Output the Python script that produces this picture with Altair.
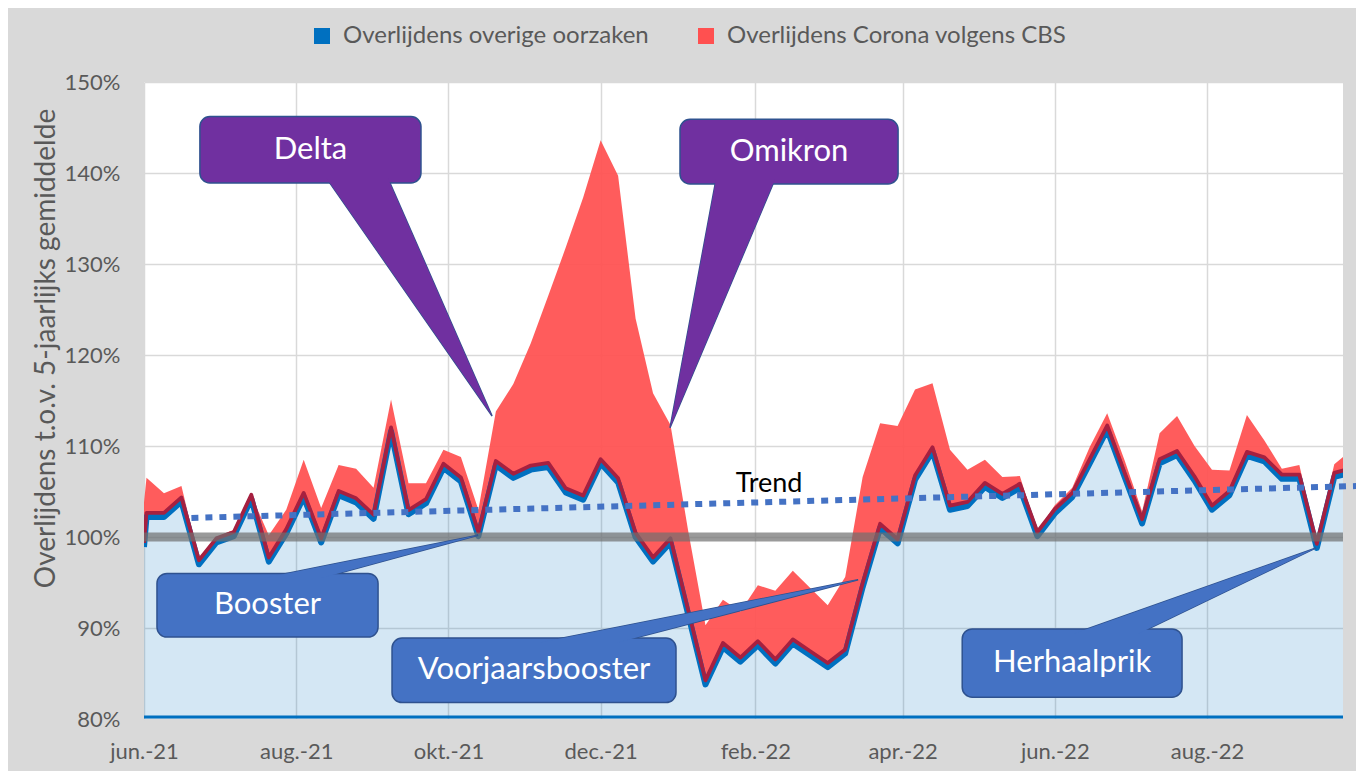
import altair as alt
import pandas as pd

# ---------------- data ----------------
dates = [
    "2021-06-01", "2021-06-02", "2021-06-09", "2021-06-16", "2021-06-23", "2021-06-30",
    "2021-07-07", "2021-07-14", "2021-07-21", "2021-07-28", "2021-08-04", "2021-08-11",
    "2021-08-18", "2021-08-25", "2021-09-01", "2021-09-08", "2021-09-15", "2021-09-22",
    "2021-09-29", "2021-10-06", "2021-10-13", "2021-10-20", "2021-10-27", "2021-11-03",
    "2021-11-10", "2021-11-17", "2021-11-24", "2021-12-01", "2021-12-08", "2021-12-15",
    "2021-12-22", "2021-12-29", "2022-01-05", "2022-01-12", "2022-01-19", "2022-01-26",
    "2022-02-02", "2022-02-09", "2022-02-16", "2022-02-23", "2022-03-02", "2022-03-09",
    "2022-03-16", "2022-03-23", "2022-03-30", "2022-04-06", "2022-04-13", "2022-04-20",
    "2022-04-27", "2022-05-04", "2022-05-11", "2022-05-18", "2022-05-25", "2022-06-01",
    "2022-06-08", "2022-06-15", "2022-06-22", "2022-06-29", "2022-07-06", "2022-07-13",
    "2022-07-20", "2022-07-27", "2022-08-03", "2022-08-10", "2022-08-17", "2022-08-24",
    "2022-08-31", "2022-09-07", "2022-09-14", "2022-09-21", "2022-09-28",
]
# deaths from other causes, % of 5-year average (blue series)
overige = [
    98.9, 102.2, 102.2, 103.9, 97.0, 99.4, 100.1, 104.2, 97.3, 100.4, 104.4, 99.4,
    104.6, 103.8, 102.0, 111.6, 102.5, 103.7, 107.6, 106.1, 100.1, 107.9, 106.5, 107.4,
    107.7, 104.9, 104.1, 108.1, 106.0, 100.0, 97.3, 99.4, 91.6, 83.8, 87.9, 86.3,
    88.1, 86.1, 88.3, 87.0, 85.7, 87.2, 94.5, 101.0, 99.3, 106.3, 109.4, 103.0,
    103.4, 105.5, 104.3, 105.4, 100.1, 102.6, 104.4, 108.1, 111.8, 106.6, 101.5, 108.1,
    109.0, 106.2, 103.0, 104.6, 108.9, 108.3, 106.4, 106.4, 98.8, 106.6, 107.1,
]
# corona deaths (CBS), stacked on top (red series), % points
corona = [
    4.9, 4.3, 2.6, 1.7, 0.7, 0.6, 0.7, 0.4, 2.9, 2.6, 4.1, 3.8,
    3.3, 3.7, 3.4, 3.5, 3.4, 2.2, 2.0, 2.7, 2.9, 5.9, 10.3, 13.9,
    18.8, 26.9, 33.2, 35.5, 33.7, 24.0, 18.5, 12.9, 9.2, 6.5, 5.2, 5.5,
    6.6, 8.0, 8.0, 7.4, 6.8, 8.4, 12.1, 11.5, 12.9, 9.9, 7.5, 6.6,
    4.0, 3.0, 2.3, 1.3, 0.5, 0.9, 1.0, 1.8, 1.8, 1.8, 1.3, 3.3,
    4.3, 3.8, 4.4, 2.7, 4.5, 2.3, 1.1, 1.5, 0.8, 1.4, 2.5,
]

legend_labels = ["Overlijdens overige oorzaken", "Overlijdens Corona volgens CBS"]
legend_colors = ["#0070C0", "#FF5050"]

x_tick_dates = ["2021-06-01", "2021-08-01", "2021-10-01", "2021-12-01",
                "2022-02-01", "2022-04-01", "2022-06-01", "2022-08-01"]
dutch_months = ["jan.", "feb.", "mrt.", "apr.", "mei", "jun.", "jul.", "aug.",
                "sep.", "okt.", "nov.", "dec."]
y_ticks = [80, 90, 100, 110, 120, 130, 140, 150]
x_domain = ["2021-06-01", "2022-09-24T12:00:00"]
y_domain = [80, 150]

trend_dates = ["2021-06-20", "2022-09-30"]
trend_values = [102.1, 105.6]
trend_label = ["Trend"]
trend_label_date = ["2022-02-06T12:00:00"]
trend_label_value = [105.8]

reference_level = [100]
bottom_level = [80]

# call-outs: x in days after 1 June 2021, y in %
callout_text = ["Delta", "Omikron", "Booster", "Voorjaarsbooster", "Herhaalprik"]
callout_fill = ["#7030A0", "#7030A0", "#4472C4", "#4472C4", "#4472C4"]
box_day_from = [22.4, 214.8, 5.2, 99.4, 327.9]
box_day_to = [111.0, 302.2, 93.8, 213.2, 416.0]
box_val_low = [138.9, 138.8, 89.0, 81.8, 82.4]
box_val_high = [146.2, 145.9, 96.0, 88.9, 89.9]
wedge_base_day_a = [74.5, 228.9, 57.3, 167.9, 378.0]
wedge_base_day_b = [98.6, 252.1, 77.8, 196.8, 402.4]
wedge_base_val = [138.9, 138.8, 96.0, 88.9, 89.9]
wedge_tip_day = [139.5, 210.8, 133.9, 286.2, 469.7]
wedge_tip_val = [113.3, 112.0, 100.2, 95.3, 98.8]

# ---------------- helpers ----------------
DAY_MS = 86400000


def to_ms(s):
    return int(pd.Timestamp(s, tz="UTC").value // 10**6)


ORIGIN = to_ms("2021-06-01")


def day_ms(d):
    return ORIGIN + d * DAY_MS


df = pd.DataFrame({"datum": dates, "overige": overige, "corona": corona})

# wedges as triangles (area between two edges), base pushed a little into the box
wedge_rows = []
for i in range(len(callout_text)):
    bv, tv, td = wedge_base_val[i], wedge_tip_val[i], wedge_tip_day[i]
    sign = 1 if bv > tv else -1
    target = bv + sign * 0.5
    f = (target - tv) / (bv - tv)
    pts = [(td, tv)]
    for bd in (wedge_base_day_a[i], wedge_base_day_b[i]):
        pts.append((td + (bd - td) * f, target))
    pts.sort()
    (t0, v0), (t1, v1), (t2, v2) = pts
    v_opp = v0 + (v2 - v0) * (t1 - t0) / (t2 - t0)
    for t, lo, hi in ((t0, v0, v0), (t1, v1, v_opp), (t2, v2, v2)):
        wedge_rows.append({"id": i, "t": day_ms(t), "lo": lo, "hi": hi,
                           "fill": callout_fill[i]})
wedge_df = pd.DataFrame(wedge_rows)

box_df = pd.DataFrame({
    "label": callout_text,
    "fill": callout_fill,
    "t0": [day_ms(d) for d in box_day_from],
    "t1": [day_ms(d) for d in box_day_to],
    "tm": [day_ms((a + b) / 2) for a, b in zip(box_day_from, box_day_to)],
    "v0": box_val_low,
    "v1": box_val_high,
    "vm": [(a + b) / 2 for a, b in zip(box_val_low, box_val_high)],
})

trend_df = pd.DataFrame({"datum": trend_dates, "trend": trend_values})
trend_text_df = pd.DataFrame({"datum": trend_label_date, "waarde": trend_label_value,
                              "tekst": trend_label})
legend_df = pd.DataFrame({"serie": legend_labels})

# ---------------- scales / axes ----------------
GRID = "#D9D9D9"
TXT = "#595959"
FONT = "Lato"

x_scale = alt.Scale(type="utc", domain=[to_ms(x_domain[0]), to_ms(x_domain[1])], nice=False)
y_scale = alt.Scale(domain=y_domain, nice=False, zero=False)

month_arr = "[" + ",".join("'" + m + "'" for m in dutch_months) + "]"
x_axis = alt.Axis(
    values=[to_ms(d) for d in x_tick_dates],
    labelExpr=month_arr + "[utcmonth(datum.value)] + '-' + utcFormat(datum.value, '%y')",
    labelFlush=False, labelOverlap=False, ticks=False, domain=False,
    grid=True, gridColor=GRID, gridWidth=1.5,
    labelFontSize=22, labelColor=TXT, labelFont=FONT, labelPadding=22,
    title=None,
)
y_axis = alt.Axis(
    values=y_ticks, labelExpr="datum.value + '%'",
    ticks=False, domain=False, grid=True, gridColor=GRID, gridWidth=1.5,
    labelFontSize=22, labelColor=TXT, labelFont=FONT, labelPadding=24,
    title="Overlijdens t.o.v. 5-jaarlijks gemiddelde",
    titleFontSize=28, titleColor=TXT, titleFont=FONT, titleFontWeight="normal",
    titleAngle=270, titleX=-98, titleY=266, titleAlign="center", titleBaseline="middle",
    titleLimit=1000,
)


def X(field):
    return alt.X(field, type="temporal", scale=x_scale, axis=x_axis)


def Y(field):
    return alt.Y(field, type="quantitative", scale=y_scale, axis=y_axis)


base = alt.Chart(df).transform_calculate(
    totaal="datum.overige + datum.corona",
    rand="datum.overige + 0.45",
)

blue_area = base.mark_area(color="#0070C0", fillOpacity=0.17, clip=True).encode(
    x=X("datum"), y=Y("overige"))

red_area = base.mark_area(color="#FF5050", fillOpacity=0.93, clip=True).encode(
    x=X("datum"), y=Y("overige"), y2=alt.Y2("totaal:Q"))

blue_line = base.mark_line(color="#0070C0", strokeWidth=6, strokeJoin="round",
                           clip=True).encode(x=X("datum"), y=Y("overige"))

crimson_line = base.mark_line(color="#A62040", strokeWidth=3.8, strokeJoin="round",
                              clip=True).encode(x=X("datum"), y=Y("rand"))

band = alt.Chart(pd.DataFrame({"niveau": reference_level})).mark_rule(
    color="#6F6F6F", opacity=0.7, strokeWidth=9).encode(y=Y("niveau"))

bottom = alt.Chart(pd.DataFrame({"niveau": bottom_level})).mark_rule(
    color="#0070C0", strokeWidth=3, yOffset=-2).encode(y=Y("niveau"))

trend = alt.Chart(trend_df).mark_line(
    color="#4472C4", strokeWidth=6, strokeDash=[7, 7], clip=False).encode(
    x=X("datum"), y=Y("trend"))

trend_text = alt.Chart(trend_text_df).mark_text(
    fontSize=27, font=FONT, color="black", baseline="middle", align="center").encode(
    x=X("datum"), y=Y("waarde"), text="tekst:N")

wedges = alt.Chart(wedge_df).mark_area(stroke="#2F528F", strokeWidth=1.5).encode(
    x=X("t"), y=Y("lo"), y2=alt.Y2("hi"), detail="id:N",
    fill=alt.Fill("fill:N", scale=None))

boxes = alt.Chart(box_df).mark_rect(cornerRadius=10, stroke="#2F528F", strokeWidth=1.5).encode(
    x=X("t0"), x2=alt.X2("t1"), y=Y("v0"), y2=alt.Y2("v1"),
    fill=alt.Fill("fill:N", scale=None))

wedge_patch = alt.Chart(wedge_df).mark_area(strokeWidth=0).encode(
    x=X("t"), y=Y("lo"), y2=alt.Y2("hi"), detail="id:N",
    fill=alt.Fill("fill:N", scale=None))

box_text = alt.Chart(box_df).mark_text(
    fontSize=31, font=FONT, color="white", baseline="middle", align="center").encode(
    x=X("tm"), y=Y("vm"), text="label:N")

legend_layer = alt.Chart(legend_df).mark_square(size=100, opacity=1).encode(
    x=alt.value(-3000), y=alt.value(-3000),
    color=alt.Color("serie:N",
                    scale=alt.Scale(domain=legend_labels, range=legend_colors),
                    legend=alt.Legend(
                        title=None, orient="none", legendX=166, legendY=-58,
                        direction="horizontal", symbolType="square", symbolSize=256,
                        symbolOpacity=1, symbolStrokeWidth=0,
                        labelFontSize=24, labelColor=TXT, labelFont=FONT,
                        labelLimit=1000, columnPadding=45, labelOffset=9)))

chart = alt.layer(
    blue_area, red_area, blue_line, crimson_line, band, bottom, trend, trend_text,
    wedges, boxes, wedge_patch, box_text, legend_layer,
).properties(
    width=1199, height=637,
    autosize=alt.AutoSizeParams(type="none"),
    padding={"left": 136, "top": 74, "right": 13, "bottom": 52},
    background="#D9D9D9",
).configure(font=FONT).configure_view(fill="white", strokeWidth=0)

chart.save("out.html", embed_options={"renderer": "svg", "actions": False})
